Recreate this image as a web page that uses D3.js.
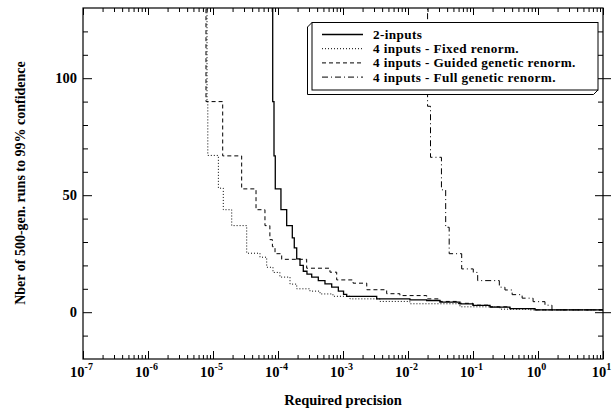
<!DOCTYPE html>
<meta charset="utf-8">
<title>runs vs precision</title>
<style>
  body { margin: 0; background: #fff; }
  text { font-family: "Liberation Serif", "Times New Roman", serif; font-weight: bold; fill: #000; }
</style>
<svg id="chart"></svg>
<script src="https://cdn.jsdelivr.net/npm/d3@7"></script>
<script>
// data: [required precision, runs]
const twoInputs = [
  [8.29e-5, 300], [8.29e-5, 90], [8.68e-5, 66.8], [9.08e-5, 52.7], [1.11e-4, 43.8],
  [1.36e-4, 37], [1.66e-4, 31.8], [1.78e-4, 27.5], [1.94e-4, 22.8], [2.18e-4, 20],
  [2.45e-4, 17.5], [2.79e-4, 16.3], [3.3e-4, 15], [4.17e-4, 13.5], [5.28e-4, 12.1],
  [6.7e-4, 10.7], [8.48e-4, 9], [1.02e-3, 7.6], [1.14e-3, 6.8], [3.3e-3, 5.7],
  [1.07e-2, 5.3], [1.94e-2, 5], [3.1e-2, 4.3], [6.3e-2, 3.6], [0.1, 2.9],
  [0.183, 2.2], [0.37, 1.5], [0.9, 1], [10, 1]
];
const fixedRenorm = [
  [8.09e-6, 300], [8.09e-6, 90], [8.32e-6, 67], [1.21e-5, 53], [1.44e-5, 43.8],
  [1.94e-5, 37], [3.3e-5, 25.2], [5.28e-5, 23.5], [6.7e-5, 19.2], [8.37e-5, 17],
  [1.07e-4, 15], [1.53e-4, 12], [1.94e-4, 10], [3.1e-4, 9], [4.43e-4, 7.8],
  [7e-4, 6.8], [1.28e-3, 5.7], [3.7e-3, 4.6], [1.07e-2, 3.6], [6.3e-2, 2.3],
  [0.26, 1.3], [0.75, 1], [10, 1]
];
const guidedRenorm = [
  [7.8e-6, 300], [7.8e-6, 90], [1.41e-5, 66.8], [2.76e-5, 52.7], [4.59e-5, 43.8],
  [6.3e-5, 37], [7.5e-5, 31], [8.2e-5, 28], [9.0e-5, 25], [1.14e-4, 22.6],
  [2.76e-4, 18.8], [6.3e-4, 17.1], [8.0e-4, 13.8], [1.43e-3, 12.4], [2.32e-3, 9.6],
  [4.7e-3, 7.9], [7.5e-3, 7.1], [1.94e-2, 5.7], [3.1e-2, 4.6], [5.6e-2, 3.8],
  [0.1, 3], [0.183, 2.3], [0.37, 1.5], [0.9, 1], [10, 1]
];
const fullRenorm = [
  [2.0e-2, 300], [2.0e-2, 88], [2.22e-2, 66.2], [3.27e-2, 52.3], [3.8e-2, 36.3],
  [4.3e-2, 25], [6.7e-2, 18.5], [0.101, 17], [0.118, 13.5], [0.254, 10.7],
  [0.31, 9.5], [0.40, 7.5], [0.57, 6], [0.84, 4.5], [1.28, 3], [1.64, 1], [10, 1]
];

const seriesNames = ["2-inputs", "4 inputs - Fixed renorm.", "4 inputs - Guided genetic renorm.", "4 inputs - Full genetic renorm."];
const seriesData = [twoInputs, fixedRenorm, guidedRenorm, fullRenorm];
const dashes = [null, "1,2", "4,3", "6,3,1,3"];
const widths = [1.3, 1, 1, 1];

const yMajor = [0, 50, 100];
const yMinor = [-10, 10, 20, 30, 40, 60, 70, 80, 90, 110, 120];
const xDecades = [-7, -6, -5, -4, -3, -2, -1, 0, 1];

var width = 616, height = 412;
var svg = d3.select("#chart").attr("width", width).attr("height", height);

// plot box (don't use "top": clashes with window.top)
var pLeft = 83, pRight = 603, pTop = 8, pBottom = 359;

var x = d3.scaleLog().domain([1e-7, 10]).range([pLeft, pRight]);
var y = d3.scaleLinear().domain([-20, 130]).range([pBottom, pTop]);

var majorX = xDecades.map(e => Math.pow(10, e));
var minorX = x.ticks().filter(v => !majorX.some(m => Math.abs(v / m - 1) < 1e-6));

svg.append("clipPath").attr("id", "plotclip")
  .append("rect").attr("x", pLeft).attr("y", pTop).attr("width", pRight - pLeft).attr("height", pBottom - pTop);

// ticks
function tickGroup(axis, tx, ty) {
  var g = svg.append("g").attr("transform", `translate(${tx},${ty})`).call(axis);
  g.select(".domain").remove();
  g.selectAll("line").attr("stroke", "#000");
  g.selectAll("text").remove();
  return g;
}
tickGroup(d3.axisBottom(x).tickValues(minorX).tickSize(-4).tickSizeOuter(0), 0, pBottom);
tickGroup(d3.axisBottom(x).tickValues(majorX).tickSize(-8).tickSizeOuter(0), 0, pBottom);
tickGroup(d3.axisTop(x).tickValues(minorX).tickSize(-4).tickSizeOuter(0), 0, pTop);
tickGroup(d3.axisTop(x).tickValues(majorX).tickSize(-7).tickSizeOuter(0), 0, pTop);
tickGroup(d3.axisLeft(y).tickValues(yMinor).tickSize(-5).tickSizeOuter(0), pLeft, 0);
tickGroup(d3.axisLeft(y).tickValues(yMajor).tickSize(-9).tickSizeOuter(0), pLeft, 0);
tickGroup(d3.axisRight(y).tickValues(yMinor).tickSize(-5).tickSizeOuter(0), pRight, 0);
tickGroup(d3.axisRight(y).tickValues(yMajor).tickSize(-8).tickSizeOuter(0), pRight, 0);
tickGroup(d3.axisRight(y).tickValues(yMajor).tickSize(8).tickSizeOuter(0), pRight, 0);

// frame
svg.append("rect")
  .attr("x", pLeft).attr("y", pTop).attr("width", pRight - pLeft).attr("height", pBottom - pTop)
  .attr("fill", "none").attr("stroke", "#000").attr("stroke-width", 1.2);

// tick labels
svg.append("g").selectAll("text").data(yMajor).join("text")
  .attr("x", pLeft - 6).attr("y", d => y(d)).attr("dy", "0.35em")
  .attr("text-anchor", "end").attr("font-size", 14.5)
  .text(d => d);

var xl = svg.append("g").selectAll("text").data(xDecades).join("text")
  .attr("x", d => x(Math.pow(10, d)) - 1.5).attr("y", 377)
  .attr("text-anchor", "middle").attr("font-size", 14.5);
xl.append("tspan").text("10");
xl.append("tspan").attr("dy", -7).attr("font-size", 10).text(d => d);

// axis titles
svg.append("text").attr("x", (pLeft + pRight) / 2).attr("y", 405)
  .attr("text-anchor", "middle").attr("font-size", 14.5).text("Required precision");
svg.append("text").attr("transform", "translate(24.5,183) rotate(-90)")
  .attr("text-anchor", "middle").attr("font-size", 14).text("Nber of 500-gen. runs to 99% confidence");

// curves
var line = d3.line().curve(d3.curveStepAfter).x(d => x(d[0])).y(d => y(d[1]));
svg.append("g").attr("clip-path", "url(#plotclip)")
  .selectAll("path").data(seriesData).join("path")
  .attr("d", line)
  .attr("fill", "none").attr("stroke", "#000")
  .attr("stroke-width", (d, i) => widths[i])
  .attr("stroke-dasharray", (d, i) => dashes[i]);

// legend box with bevel
var lg = svg.append("g");
lg.append("path")
  .attr("d", "M312,22.5 L307.5,27 L307.5,94.5 L593.5,94.5 L598,90 Z")
  .attr("fill", "#fff").attr("stroke", "#000").attr("stroke-width", 1);
lg.append("rect").attr("x", 312).attr("y", 22.5).attr("width", 286).attr("height", 67.5)
  .attr("fill", "#fff").attr("stroke", "#000").attr("stroke-width", 1);

var rows = lg.selectAll("g.row").data(seriesNames).join("g")
  .attr("class", "row")
  .attr("transform", (d, i) => `translate(0,${34.5 + i * 14.2})`);
rows.append("line").attr("x1", 322).attr("x2", 363)
  .attr("stroke", "#000")
  .attr("stroke-width", (d, i) => widths[i])
  .attr("stroke-dasharray", (d, i) => dashes[i]);
rows.append("text").attr("x", 373).attr("y", 4.5).attr("font-size", 13.2)
  .attr("letter-spacing", 0.4).text(d => d);
</script>
